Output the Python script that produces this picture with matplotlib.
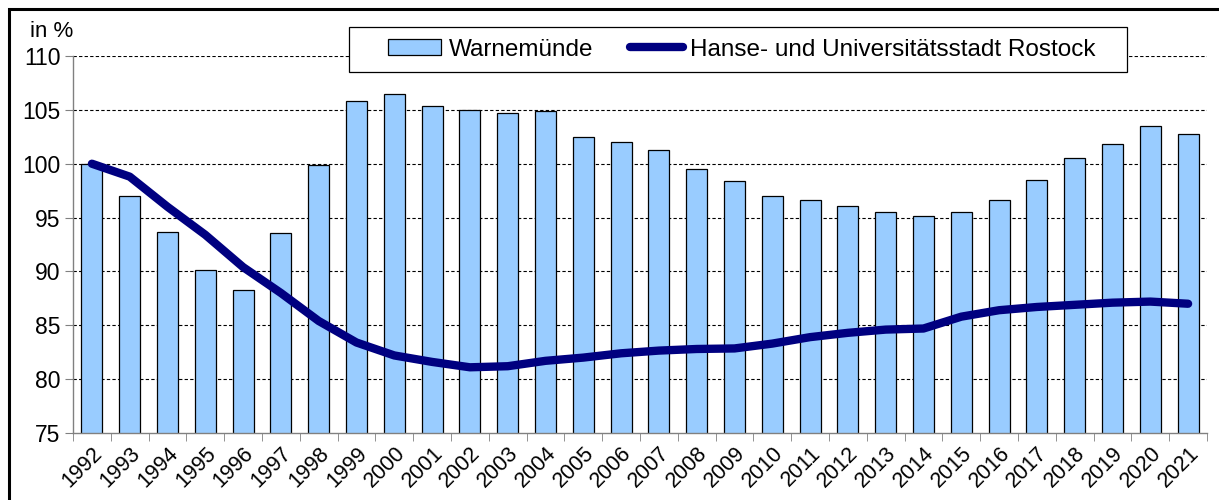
import matplotlib
matplotlib.use('Agg')
import matplotlib.pyplot as plt
import matplotlib.transforms as mtransforms
import numpy as np
from matplotlib.patches import Rectangle

plt.rcParams['font.family'] = ['Liberation Sans', 'DejaVu Sans']

# Data
years = [str(y) for y in range(1992, 2022)]
warnemuende = [100.0, 97.0, 93.7, 90.1, 88.3, 93.6, 99.9, 105.8, 106.5, 105.4,
               105.0, 104.7, 104.9, 102.5, 102.0, 101.3, 99.5, 98.4, 97.0, 96.6,
               96.1, 95.5, 95.1, 95.5, 96.6, 98.5, 100.5, 101.8, 103.5, 102.8]
rostock = [100.0, 98.8, 96.0, 93.4, 90.4, 88.0, 85.4, 83.4, 82.2, 81.6,
           81.1, 81.2, 81.7, 82.0, 82.4, 82.65, 82.8, 82.85, 83.3, 83.9,
           84.3, 84.6, 84.7, 85.8, 86.4, 86.7, 86.9, 87.1, 87.2, 87.0]
yticks = [75, 80, 85, 90, 95, 100, 105, 110]

W, H = 1219, 500
fig = plt.figure(figsize=(W / 100, H / 100), dpi=100)
ax_l, ax_r, ax_t, ax_b = 73, 1207, 56, 433
ax = fig.add_axes([ax_l / W, 1 - ax_b / H, (ax_r - ax_l) / W, (ax_b - ax_t) / H])

x = np.arange(len(years))

# Bars and line
bars = ax.bar(x, warnemuende, width=0.56, color='#99CCFF', edgecolor='black',
              linewidth=0.9, zorder=2)
line, = ax.plot(x, rostock, color='#000080', linewidth=6, solid_capstyle='round',
                solid_joinstyle='round', zorder=3)

# Axes settings
ax.set_xlim(-0.5, len(years) - 0.5)
ax.set_ylim(75, 110)
ax.set_yticks(yticks)
ax.set_yticklabels([str(v) for v in yticks], fontsize=16.5)
ax.set_xticks(x)
ax.set_xticklabels(years, rotation=45, ha='right', va='top',
                   rotation_mode='anchor', fontsize=15.5)
shift = mtransforms.ScaledTranslation(-4 / 100, 0, fig.dpi_scale_trans)
for lab in ax.get_xticklabels():
    lab.set_transform(lab.get_transform() + shift)
ax.set_xticks(np.arange(len(years) + 1) - 0.5, minor=True)
ax.tick_params(axis='x', which='major', length=0, pad=7)
ax.tick_params(axis='x', which='minor', length=6, color='#808080', direction='out')
ax.tick_params(axis='y', length=6, color='#808080', direction='out', pad=3)

for s in ['top', 'right']:
    ax.spines[s].set_visible(False)
for s in ['left', 'bottom']:
    ax.spines[s].set_color('#808080')
    ax.spines[s].set_linewidth(1.0)

for v in yticks[1:]:
    ax.axhline(v, color='black', linewidth=0.8, linestyle=(0, (3, 2)), zorder=1)

# Legend box (pixel positions taken from the reference layout)
def to_ax(px, py):
    return (px - ax_l) / (ax_r - ax_l), (ax_b - py) / (ax_b - ax_t)

bx0, by0 = to_ax(349, 72)
bx1, by1 = to_ax(1127, 27)
ax.add_patch(Rectangle((bx0, by0), bx1 - bx0, by1 - by0, transform=ax.transAxes,
                       facecolor='white', edgecolor='black', linewidth=0.9,
                       clip_on=False, zorder=4))
lx, ly = to_ax(388, 49.5)
leg = ax.legend([bars, line], ['Warnemünde', 'Hanse- und Universitätsstadt Rostock'],
                loc='center left', bbox_to_anchor=(lx, ly), ncol=2,
                fontsize=17.5, frameon=False, handlelength=2.2, handleheight=0.6,
                handletextpad=0.3, columnspacing=1.5, borderpad=0, borderaxespad=0)
leg.set_zorder(5)

fig.text(30 / W, 1 - 37 / H, 'in %', fontsize=16, ha='left', va='baseline')

# Outer frame
fig.patches.append(Rectangle((9 / W, -0.1), 1.2, 1 - 9 / H + 0.1,
                             transform=fig.transFigure, fill=False,
                             edgecolor='black', linewidth=2.2))

plt.savefig('out.png', dpi=100)
